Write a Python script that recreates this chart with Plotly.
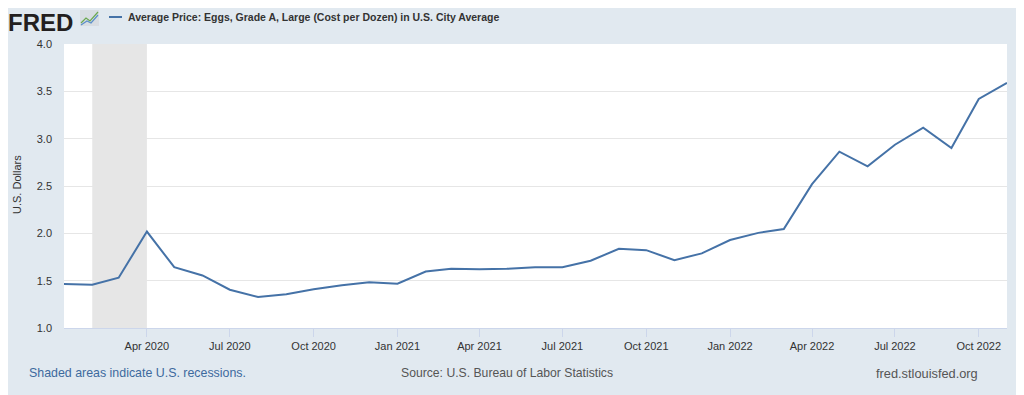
import plotly.graph_objects as go

dates = ["2020-01-01","2020-02-01","2020-03-01","2020-04-01","2020-05-01","2020-06-01",
         "2020-07-01","2020-08-01","2020-09-01","2020-10-01","2020-11-01","2020-12-01",
         "2021-01-01","2021-02-01","2021-03-01","2021-04-01","2021-05-01","2021-06-01",
         "2021-07-01","2021-08-01","2021-09-01","2021-10-01","2021-11-01","2021-12-01",
         "2022-01-01","2022-02-01","2022-03-01","2022-04-01","2022-05-01","2022-06-01",
         "2022-07-01","2022-08-01","2022-09-01","2022-10-01","2022-11-01"]
prices = [1.465,1.458,1.531,2.019,1.642,1.555,1.404,1.328,1.357,1.409,1.451,1.482,
          1.467,1.597,1.625,1.620,1.625,1.642,1.642,1.710,1.837,1.822,1.717,1.788,
          1.929,2.005,2.046,2.520,2.863,2.707,2.936,3.116,2.902,3.419,3.589]
recession_start = "2020-02-01"
recession_end = "2020-04-01"
tick_vals = ["2020-04-01","2020-07-01","2020-10-01","2021-01-01","2021-04-01","2021-07-01",
             "2021-10-01","2022-01-01","2022-04-01","2022-07-01","2022-10-01"]
tick_text = ["Apr 2020","Jul 2020","Oct 2020","Jan 2021","Apr 2021","Jul 2021",
             "Oct 2021","Jan 2022","Apr 2022","Jul 2022","Oct 2022"]
y_ticks = [1.0, 1.5, 2.0, 2.5, 3.0, 3.5, 4.0]
y_tick_text = ["1.0", "1.5", "2.0", "2.5", "3.0", "3.5", "4.0"]
series_name = "Average Price: Eggs, Grade A, Large (Cost per Dozen) in U.S. City Average"

BG = "#e1e9f0"
LINE = "#4572a7"
FONT = "Liberation Sans, Arial, sans-serif"

# page body has an 8px margin: plot area target is x 64..1007, y 44..328 on screen
PL, PR, PT, PB = 64, 1007, 44, 328
PW, PH = PR - PL, PB - PT

def px(x):
    return (x - PL) / PW

def py(y):
    return (PB - y) / PH

fig = go.Figure()
fig.add_vrect(x0=recession_start, x1=recession_end, fillcolor="#e6e6e6",
              line_width=0, layer="below")
fig.add_trace(go.Scatter(x=dates, y=prices, mode="lines",
                         line=dict(color=LINE, width=2), showlegend=False,
                         name=series_name))

fig.update_layout(
    width=1024, height=395,
    paper_bgcolor=BG, plot_bgcolor="white",
    margin=dict(l=PL - 8, r=1032 - PR, t=PT - 8, b=403 - PB, autoexpand=False),
    font=dict(family=FONT, size=11, color="#333333"),
    xaxis=dict(range=["2020-01-01", "2022-11-01"], tickvals=tick_vals, ticktext=tick_text,
               showgrid=False, ticks="outside", ticklen=8, tickcolor="#ccd6eb",
               tickfont=dict(size=11, color="#333333"), showline=True, linecolor="#ccd6eb",
               linewidth=1, zeroline=False, automargin=False),
    yaxis=dict(range=[1.0, 4.0], tickvals=y_ticks, ticktext=y_tick_text,
               gridcolor="#e6e6e6", gridwidth=1, zeroline=False, ticks="",
               ticklabelstandoff=11, automargin=False,
               tickfont=dict(size=11, color="#333333")),
)

# FRED logo text and small icon
fig.add_annotation(xref="paper", yref="paper", x=px(7), y=py(8), xanchor="left",
                   yanchor="top", text="<b>FRED</b>", showarrow=False, borderpad=0,
                   font=dict(family="Liberation Sans, Arial", size=24, color="#231f20"))
fig.add_shape(type="rect", xref="paper", yref="paper", x0=px(80), x1=px(99),
              y0=py(26), y1=py(10), fillcolor="#d8dde2", line_width=0)
fig.add_shape(type="path", xref="paper", yref="paper",
              path=f"M {px(81)} {py(23)} L {px(86)} {py(18)} L {px(90)} {py(21)} L {px(98)} {py(12)}",
              line=dict(color="#6aa84f", width=1.2))
fig.add_shape(type="path", xref="paper", yref="paper",
              path=f"M {px(81)} {py(25)} L {px(87)} {py(21)} L {px(91)} {py(23)} L {px(98)} {py(15)}",
              line=dict(color="#5b8fc9", width=1.2))

# legend entry
fig.add_shape(type="line", xref="paper", yref="paper", x0=px(109), x1=px(122),
              y0=py(17), y1=py(17), line=dict(color=LINE, width=2))
fig.add_annotation(xref="paper", yref="paper", x=px(126), y=py(17), xanchor="left",
                   yanchor="middle", text="<b>" + series_name + "</b>", showarrow=False,
                   font=dict(size=10.5, color="#333333"))

# y-axis title
fig.add_annotation(xref="paper", yref="paper", x=px(17), y=py(185), xanchor="center",
                   yanchor="middle", text="U.S. Dollars", textangle=-90, showarrow=False,
                   font=dict(size=11, color="#333333"))

# footer
fig.add_annotation(xref="paper", yref="paper", x=px(27), y=py(373), xanchor="left",
                   yanchor="middle", text="Shaded areas indicate U.S. recessions.", showarrow=False,
                   font=dict(size=12.4, color="#3d6a9e"))
fig.add_annotation(xref="paper", yref="paper", x=px(507), y=py(373), xanchor="center",
                   yanchor="middle", text="Source: U.S. Bureau of Labor Statistics", showarrow=False,
                   font=dict(size=12.2, color="#555555"))
fig.add_annotation(xref="paper", yref="paper", x=px(980), y=py(373), xanchor="right",
                   yanchor="middle", text="fred.stlouisfed.org", showarrow=False,
                   font=dict(size=12.8, color="#555555"))

fig.write_html("out.html")
